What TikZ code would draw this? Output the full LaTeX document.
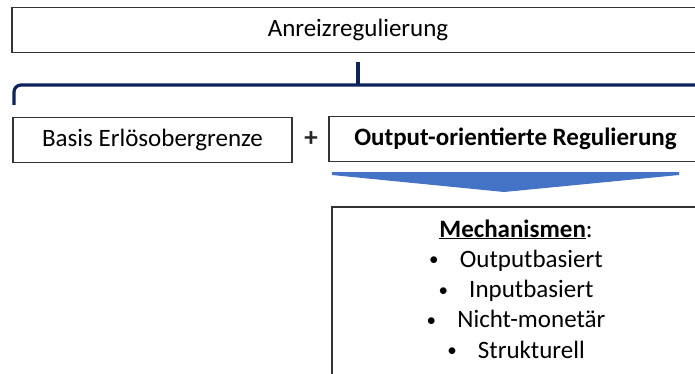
\documentclass[tikz,border=0pt]{standalone}
\usepackage{fontspec}
\setmainfont{Carlito}
\usetikzlibrary{positioning}
\definecolor{bracenavy}{RGB}{14,34,92}
\definecolor{arrowblue}{RGB}{68,114,196}
\newcommand\mechitem{{\fontsize{19}{19}\selectfont\raisebox{1.5pt}{\textbullet}}\hspace{0.85em}}
\tikzset{
  box/.style={draw=black!80,line width=1.3pt,inner sep=0pt,minimum height=45pt,
    font=\fontsize{25}{30}\selectfont,text=black},
}
\begin{document}
\begin{tikzpicture}[x=1pt,y=-1pt]
\useasboundingbox (0,0) rectangle (695,374);
\clip (0,0) rectangle +(695,374);

% Top box
\node[box,minimum width=692pt] (anreiz) at (358,30) {Anreizregulierung};

% Brace under the top box
\draw[bracenavy,line width=3.2pt,rounded corners=7pt]
  (14,105) -- (14,85) -- (705,85);
\draw[bracenavy,line width=3.2pt] (358,86) -- (358,62);

% Second row
\node[box,minimum width=279pt] (basis) at (152.5,140) {Basis Erlösobergrenze};
\node[font=\fontsize{27}{30}\selectfont\bfseries,text=black!85] (plus) at (311,139) {+};
\node[box,minimum width=373pt,font=\fontsize{25}{30}\selectfont\bfseries]
  (output) at (515.5,139) {Output-orientierte Regulierung};

% Construct the chevron arrow
\fill[arrowblue] (332,172) coordinate (AL) -- (679,172) coordinate (AR)
  -- (679,175) -- (504,192) coordinate (AT) -- (332,175) -- cycle;

% Mechanism box
\node[box,minimum width=368pt,minimum height=180pt] (mech) at (516,297) {};
\node[anchor=north,inner sep=0pt,align=center,text=black,
  font=\fontsize{25}{30.25}\selectfont] (mechtext) at ([yshift=-13pt]mech.north)
  {\textbf{\underline{Mechanismen}}:\\
   \mechitem Outputbasiert\\
   \mechitem Inputbasiert\\
   \mechitem Nicht-monetär\\
   \mechitem Strukturell};
\end{tikzpicture}
\end{document}
